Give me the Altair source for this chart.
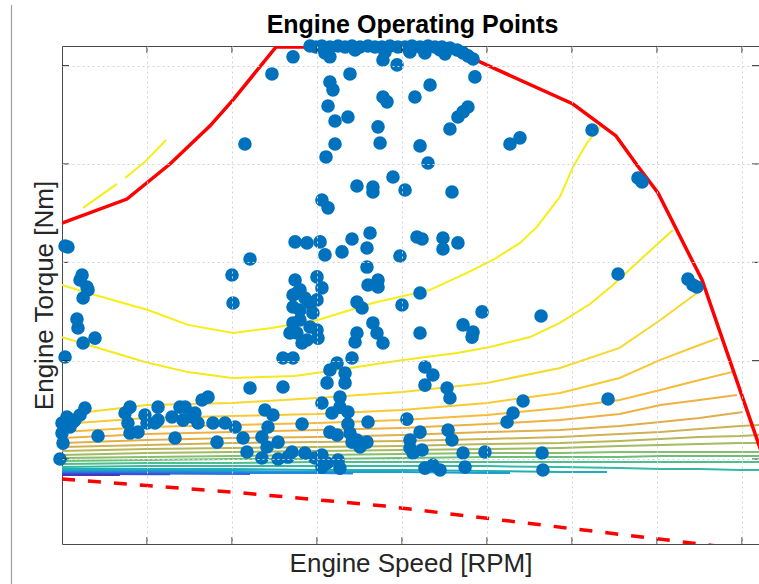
import altair as alt
import pandas as pd

# ---- plot frame -----------------------------------------------------------
X_MIN, X_MAX = 1000, 5100        # engine speed [rpm]
Y_MIN, Y_MAX = -43.2, 210.0      # engine torque [Nm]
W, H = 697, 498

x_ticks = [1500, 2000, 2500, 3000, 3500, 4000, 4500, 5000]
y_ticks = [0, 50, 100, 150, 200]

# ---- wide-open-throttle (max torque) curve -------------------------------
full_load_rpm = [1000, 1382, 1635, 1871, 2006, 2259, 3265, 4006, 4259, 4382, 4506, 4765, 5100, 5224]
full_load_nm = [120.0, 132.2, 150.0, 169.4, 182.6, 209.5, 209.5, 180.5, 164.3, 149.5, 135.3, 91.0, 7.1, -23.4]

# ---- closed-throttle (motoring) torque -----------------------------------
motoring_rpm = [1000, 2006, 2900, 4753, 5100]
motoring_nm = [-10.2, -16.8, -23.9, -43.2, -46.8]

# ---- efficiency contour lines (rpm list, torque list) --------------------
cols = [1000, 1500, 2000, 2500, 3000, 3500, 3930, 4280, 4520, 4750, 4990, 5100]
contours = {
    "c00": ([1124, 1324], [127.7, 139.9]),
    "c01": ([1371, 1488, 1612], [142.9, 151.1, 162.2]),
    "c1": ([1000, 1153, 1506, 1741, 2006, 2235, 2506, 2829, 3165, 3382, 3535, 3694, 3794, 3929, 4006, 4088, 4165],
           [88.5, 84.4, 75.8, 68.2, 64.1, 66.6, 70.7, 79.3, 86.0, 94.6, 101.2, 109.9, 118.0, 133.3, 148.5, 160.7, 168.9]),
    "c2": ([1000, 1194, 1488, 1741, 2000, 2371, 2735, 3006, 3324, 3518, 3753, 3929, 4106, 4241, 4400, 4594],
           [62.0, 57.0, 49.3, 44.2, 41.2, 42.2, 46.8, 50.4, 53.9, 57.0, 62.0, 69.2, 78.8, 88.5, 101.2, 116.5]),
    "c3": (cols[:9] + [4735], [22.4, 27.5, 28.5, 31.0, 34.1, 38.7, 46.3, 56.5, 70.7, 84.4]),
    "c4": (cols[:10] + [4860], [17.8, 20.9, 21.9, 22.9, 24.9, 28.5, 33.6, 41.2, 50.4, 58.0, 61.5]),
    "c5": (cols[:10] + [4940], [13.7, 16.3, 17.3, 18.3, 19.8, 22.4, 25.9, 30.0, 35.1, 40.2, 44.2]),
    "c6": (cols[:10] + [4970], [10.7, 12.7, 13.7, 14.7, 15.8, 17.8, 19.8, 22.9, 27.5, 30.0, 32.6]),
    "c7": (cols[:10] + [5006], [8.1, 9.7, 10.7, 11.2, 12.2, 13.7, 14.7, 16.8, 18.8, 20.9, 23.9]),
    "c8": (cols, [6.1, 7.1, 8.1, 8.6, 9.2, 10.2, 11.2, 12.7, 13.7, 15.3, 16.8, 17.3]),
    "c9": (cols, [4.1, 5.1, 5.6, 6.1, 6.6, 7.6, 8.1, 9.2, 10.2, 11.2, 11.7, 12.2]),
    "c10": (cols, [2.0, 3.1, 3.6, 4.1, 4.6, 5.1, 5.6, 6.6, 7.1, 7.6, 8.1, 8.1]),
    "c11": (cols, [0.5, 1.0, 1.5, 2.0, 2.5, 3.1, 3.1, 3.6, 3.6, 3.6, 3.6, 3.6]),
    "c12": (cols, [-1.0, -0.5, 0.0, 0.0, 0.5, 1.0, 1.0, 1.0, 1.5, 1.5, 1.5, 1.5]),
    "c13": (cols, [-2.5, -2.0, -2.0, -1.5, -1.5, -1.5, -1.5, -1.5, -1.5, -1.5, -1.5, -1.5]),
    "c14": (cols, [-4.1, -3.6, -3.6, -3.6, -3.6, -3.6, -4.1, -4.6, -5.1, -5.1, -5.6, -5.6]),
    "c15": ([1000, 1500, 2000, 2500, 3000, 3500, 3930, 4206], [-5.1, -5.1, -5.1, -5.6, -5.6, -6.1, -6.6, -6.6]),
    "c16": ([1000, 1500, 2000, 2500, 3000, 3500, 3635], [-6.1, -6.1, -6.1, -6.6, -6.6, -7.1, -7.1]),
    "c17": ([1000, 1500, 2000, 2500, 2712], [-6.6, -6.6, -7.1, -7.1, -7.3]),
    "c18": ([1000, 1500, 2106], [-7.1, -7.3, -7.6]),
    "c19": ([1000, 1635], [-7.6, -7.8]),
    "c20": ([1000, 1340], [-8.1, -8.1]),
}
contour_colors = ["#f7ee13", "#f7ee13", "#f7ee13", "#f7e819", "#f8d82a", "#f9c934", "#f6ba3c",
                  "#eeb043", "#e0ae4a", "#cdb152", "#b8b65a", "#a2ba61", "#88bd6b", "#6cbf7a",
                  "#4fbd8e", "#34b9a3", "#20afb8", "#1c9fce", "#2486dc", "#2f6ae0", "#3a50d4", "#4537b8"]
contour_levels = list(contours.keys())
contour_colors = contour_colors[:len(contour_levels)]

# ---- logged engine operating points [rpm, Nm] ------------------------------
pts_full_load = [
    [2459, 210], [2494, 209.5], [2529, 210], [2576, 209.5], [2624, 210], [2665, 209.5], [2706, 210],
    [2753, 209.5], [2800, 210], [2841, 209.5], [2882, 209.5], [2929, 210], [2976, 209.5], [3018, 209.5],
    [3059, 210], [3106, 209.5], [3153, 210], [3194, 209.5], [3235, 209.5], [3282, 209], [3324, 208],
    [3359, 206.5], [3388, 205], [3418, 203.4], [2547, 206.5], [2576, 204.5], [2888, 202.9], [2971, 200.4],
    [2900, 207], [3224, 208], [2724, 208], [3047, 207], [3135, 206.5], [3253, 206],
]
pts_upper = [
    [2359, 204.5], [2235, 195.8], [2076, 160.2], [2576, 191.7], [2594, 187.7], [2565, 179.5], [2606, 171.9],
    [2682, 173.9], [2694, 195.8], [2859, 168.9], [2871, 160.7], [2606, 160.2], [2553, 153.6], [2735, 138.8],
    [2829, 138.3], [2829, 135.8], [2529, 131.7], [2565, 127.7], [2371, 110.4], [2441, 109.9], [2518, 110.4],
    [2547, 103.8], [2706, 111.9], [2647, 105.3], [2812, 114.9], [2794, 107.3], [2794, 97.6], [2106, 101.7],
    [2000, 93.6], [1018, 108.3], [1035, 107.8], [1118, 93.6], [1106, 91.0], [1147, 87.5], [1153, 86.0],
    [1124, 81.9], [1088, 71.2], [1094, 66.6], [1124, 59.0], [1194, 61.5], [1018, 51.9], [2006, 79.3],
    [2888, 184.1], [2912, 181.6], [3076, 184.1], [3429, 194.3], [3165, 190.2], [3388, 179.0], [3359, 176.5],
    [3329, 173.9], [3282, 167.8], [3106, 159.2], [3153, 150.5], [3635, 160.2], [3694, 163.3], [4118, 167.3],
    [4388, 142.9], [4412, 140.9], [2947, 143.4], [3018, 136.8], [3294, 135.8], [3088, 112.9], [3118, 111.9],
    [3241, 112.4], [3241, 106.8], [3329, 109.9], [2988, 103.2], [3106, 84.4], [4271, 94.1], [4682, 91.5],
    [4712, 88.5], [4735, 87.5],
]
pts_mid = [
    [2371, 91.0], [2382, 84.4], [2359, 77.3], [2400, 70.7], [2382, 64.1], [2441, 60.5], [2459, 67.1],
    [2476, 74.3], [2500, 80.9], [2500, 65.6], [2506, 61.5], [2359, 69.2], [2400, 75.8], [2459, 79.3],
    [2500, 92.6], [2529, 87.0], [2341, 64.1], [2412, 59.0], [2400, 86.0], [2429, 81.9], [2359, 83.4],
    [2300, 51.4], [2359, 51.4], [2106, 36.1], [2300, 36.6], [2735, 79.8], [2765, 76.8], [2829, 69.2],
    [2853, 64.1], [2800, 88.5], [2859, 91.0], [2859, 87.5], [2724, 59.5], [2735, 64.1], [2888, 59.0],
    [3000, 78.3], [3106, 64.1], [3359, 68.2], [3418, 64.6], [3412, 62.0], [3471, 74.8], [3818, 72.7],
]
pts_part_load = [
    [2618, 48.8], [2706, 51.4], [2576, 45.3], [2665, 43.7], [2559, 38.7], [2665, 38.7], [2635, 31.5],
    [2529, 28.5], [2588, 23.4], [2682, 23.9], [2635, 26.4], [2412, 17.8], [2682, 17.8], [2800, 18.8],
    [2576, 13.7], [2618, 12.2], [2694, 13.2], [2706, 8.6], [2753, 6.1], [2794, 8.6], [2735, 9.7],
    [2353, 3.6], [2429, 3.1], [2488, 0.5], [2529, 2.0], [2559, -2.0], [2624, -0.5], [2529, -4.1],
    [2635, -4.6], [3135, 46.8], [3182, 42.7], [3135, 37.6], [3265, 36.1], [3282, 31.0], [3029, 20.3],
    [3106, 13.7], [3271, 14.7], [3294, 9.7], [3047, 9.7], [3047, 5.6], [3118, 4.6], [3065, 3.1],
    [3359, 3.1], [3488, 3.6], [3135, -4.6], [3182, -3.1], [3224, -5.6], [3371, -4.1], [3618, 18.8],
    [3653, 23.4], [3712, 29.5], [3824, 3.1], [3829, -5.6], [4212, 30.5],
]
pts_low_speed = [
    [1000, 18.3], [1029, 21.4], [1076, 19.8], [1106, 22.4], [1135, 25.9], [1000, 13.2], [1006, 8.1],
    [988, 0.0], [1047, 16.3], [1065, 18.8], [1212, 11.7], [1400, 26.4], [1371, 23.4], [1388, 18.3],
    [1400, 13.2], [1447, 13.7], [1488, 22.4], [1500, 18.3], [1565, 26.4], [1565, 19.8], [1547, 18.3],
    [1665, 10.7], [1647, 21.4], [1694, 26.4], [1724, 26.4], [1712, 19.8], [1765, 21.4], [1800, 18.3],
    [1782, 23.4], [1824, 30.0], [1859, 31.5], [1888, 18.3], [1912, 8.6], [1959, 18.3], [2018, 16.3],
    [2065, 10.7], [2088, 3.6], [2176, 11.2], [2194, 24.9], [2241, 22.4], [2212, 16.3], [2271, 8.6],
    [2176, 0.5], [2271, 0.0], [2329, 1.0], [2206, 6.1],
]

TITLE = "Engine Operating Points"

# ---- tables ----------------------------------------------------------------
rows = []
for name, (rpm_vals, nm_vals) in contours.items():
    for i, (r, t) in enumerate(zip(rpm_vals, nm_vals)):
        rows.append({"level": name, "seq": i, "rpm": r, "nm": t})
contour_df = pd.DataFrame(rows)

full_df = pd.DataFrame({"rpm": full_load_rpm, "nm": full_load_nm, "seq": range(len(full_load_rpm))})
motor_df = pd.DataFrame({"rpm": motoring_rpm, "nm": motoring_nm, "seq": range(len(motoring_rpm))})
points = pts_full_load + pts_upper + pts_mid + pts_part_load + pts_low_speed
points_df = pd.DataFrame(points, columns=["rpm", "nm"])

# ---- scales & axes ---------------------------------------------------------
FONT = "Liberation Sans"
x_scale = alt.Scale(domain=[X_MIN, X_MAX], nice=False, zero=False)
y_scale = alt.Scale(domain=[Y_MIN, Y_MAX], nice=False, zero=False)
grid_style = dict(labels=False, ticks=False, domain=False, grid=True, gridColor="#d4d4d4",
                  gridDash=[2, 3], gridWidth=1, zindex=1, titleFont=FONT, titleFontSize=26,
                  titleFontWeight="normal", titleColor="#262626")
x_axis = alt.Axis(values=x_ticks, title="Engine Speed [RPM]", titlePadding=6, **grid_style)
y_axis = alt.Axis(values=y_ticks, title="Engine Torque [Nm]", titlePadding=5, **grid_style)

X = alt.X("rpm:Q", scale=x_scale, axis=x_axis)
Y = alt.Y("nm:Q", scale=y_scale, axis=y_axis)

contour_layer = alt.Chart(contour_df).mark_line(strokeWidth=2, clip=True).encode(
    x=X, y=Y,
    color=alt.Color("level:N", scale=alt.Scale(domain=contour_levels, range=contour_colors), legend=None),
    order="seq:Q",
)
full_layer = alt.Chart(full_df).mark_line(color="#ff0000", strokeWidth=3.5, clip=True).encode(
    x=X, y=Y, order="seq:Q")
motor_layer = alt.Chart(motor_df).mark_line(color="#ff0000", strokeWidth=3.5, strokeDash=[13, 13],
                                            clip=True).encode(x=X, y=Y, order="seq:Q")
points_layer = alt.Chart(points_df).mark_circle(size=185, color="#0072bd", opacity=1).encode(x=X, y=Y)

# inward tick marks on all four sides of the box
TICK = 7
xt = pd.DataFrame({"rpm": x_ticks})
yt = pd.DataFrame({"nm": y_ticks})
tick_style = dict(color="#262626", strokeWidth=1)
ticks_bottom = alt.Chart(xt).mark_rule(**tick_style).encode(x=X, y=alt.value(H), y2=alt.value(H - TICK))
ticks_top = alt.Chart(xt).mark_rule(**tick_style).encode(x=X, y=alt.value(0), y2=alt.value(TICK))
ticks_left = alt.Chart(yt).mark_rule(**tick_style).encode(y=Y, x=alt.value(0), x2=alt.value(TICK))
ticks_right = alt.Chart(yt).mark_rule(**tick_style).encode(y=Y, x=alt.value(W), x2=alt.value(W - TICK))

# thin panel divider at the far left
divider = alt.Chart(pd.DataFrame({"k": [0]})).mark_rule(color="#a0a0a0", strokeWidth=1.2).encode(
    x=alt.value(-50.5), y=alt.value(-41), y2=alt.value(H + 40))

# chart heading, set above the plot box
heading = alt.Chart(pd.DataFrame({"t": [TITLE]})).mark_text(
    font=FONT, fontSize=25, fontWeight="bold", color="#000000", align="center", baseline="alphabetic"
).encode(text="t:N", x=alt.value(W / 2 + 2), y=alt.value(-13))

chart = alt.layer(
    contour_layer, full_layer, motor_layer, points_layer,
    ticks_bottom, ticks_top, ticks_left, ticks_right, divider, heading,
).properties(
    width=W, height=H,
    autosize=alt.AutoSizeParams(type="none"),
    padding={"left": 62, "top": 46, "right": 0, "bottom": 40},
).configure_view(stroke="#4a4a4a", strokeWidth=1)

chart.save("out.html", embed_options={"renderer": "svg", "actions": False})
